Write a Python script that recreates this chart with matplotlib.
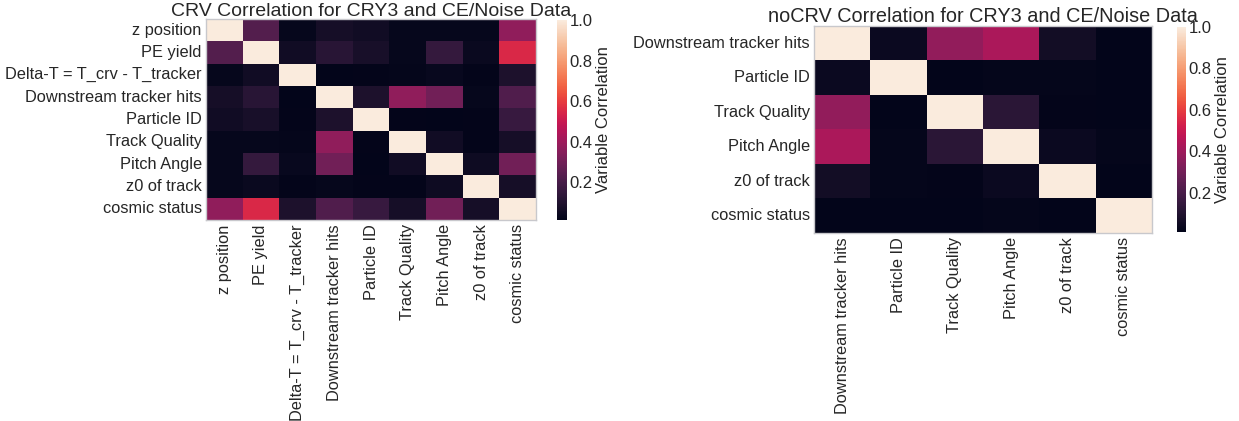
import numpy as np
import matplotlib
matplotlib.use("Agg")
import matplotlib.pyplot as plt
import seaborn as sns

# Variables entering each correlation study
crv_vars = ["z position", "PE yield", "Delta-T = T_crv - T_tracker",
            "Downstream tracker hits", "Particle ID", "Track Quality",
            "Pitch Angle", "z0 of track", "cosmic status"]
nocrv_vars = ["Downstream tracker hits", "Particle ID", "Track Quality",
              "Pitch Angle", "z0 of track", "cosmic status"]

# Absolute correlation coefficients (symmetric)
crv_corr = [
    [1.00, 0.23, 0.03, 0.07, 0.06, 0.03, 0.03, 0.03, 0.37],
    [0.23, 1.00, 0.06, 0.12, 0.08, 0.03, 0.15, 0.04, 0.55],
    [0.03, 0.06, 1.00, 0.015, 0.02, 0.025, 0.035, 0.02, 0.09],
    [0.07, 0.12, 0.015, 1.00, 0.09, 0.37, 0.30, 0.03, 0.22],
    [0.06, 0.08, 0.02, 0.09, 1.00, 0.02, 0.015, 0.02, 0.16],
    [0.03, 0.03, 0.025, 0.37, 0.02, 1.00, 0.06, 0.02, 0.07],
    [0.03, 0.15, 0.035, 0.30, 0.015, 0.06, 1.00, 0.05, 0.30],
    [0.03, 0.04, 0.02, 0.03, 0.02, 0.02, 0.05, 1.00, 0.07],
    [0.37, 0.55, 0.09, 0.22, 0.16, 0.07, 0.30, 0.07, 1.00],
]
nocrv_corr = [
    [1.00, 0.04, 0.37, 0.43, 0.06, 0.01],
    [0.04, 1.00, 0.01, 0.02, 0.02, 0.01],
    [0.37, 0.01, 1.00, 0.12, 0.015, 0.01],
    [0.43, 0.02, 0.12, 1.00, 0.04, 0.02],
    [0.06, 0.02, 0.015, 0.04, 1.00, 0.01],
    [0.01, 0.01, 0.01, 0.02, 0.01, 1.00],
]

sns.set_style("white")
plt.rcParams["font.family"] = ["Liberation Sans", "DejaVu Sans"]
plt.rcParams["text.color"] = ".15"
plt.rcParams["axes.labelcolor"] = ".15"
plt.rcParams["xtick.color"] = ".15"
plt.rcParams["ytick.color"] = ".15"

W, H = 1239, 421
fig = plt.figure(figsize=(W / 100, H / 100), dpi=100)


def box(x0, y0, x1, y1):
    return [x0 / W, 1 - y1 / H, (x1 - x0) / W, (y1 - y0) / H]


def draw(ax, cax, data, labels, title, title_pad, title_size):
    sns.heatmap(np.array(data), ax=ax, cbar_ax=cax, cmap="rocket",
                xticklabels=labels, yticklabels=labels,
                cbar_kws={"label": "Variable Correlation"})
    ax.set_title(title, fontsize=title_size, pad=title_pad)
    ax.tick_params(axis="both", labelsize=11.8, length=0, pad=3)
    ax.set_xticklabels(labels, rotation=90)
    ax.set_yticklabels(labels, rotation=0)
    for s in ax.spines.values():
        s.set_visible(True)
        s.set_color("#c8c8cc")
        s.set_linewidth(1.0)
    cax.tick_params(labelsize=12, length=0, pad=2)
    cax.yaxis.label.set_size(12)
    cax.set_yticks([0.2, 0.4, 0.6, 0.8, 1.0])
    cax.yaxis.labelpad = 2
    for s in cax.spines.values():
        s.set_visible(False)


ax1 = fig.add_axes(box(206, 19, 536, 220))
cax1 = fig.add_axes(box(557, 20, 567, 220))
draw(ax1, cax1, crv_corr, crv_vars,
     "CRV Correlation for CRY3 and CE/Noise Data", 2, 14.0)

ax2 = fig.add_axes(box(814, 26, 1152, 233))
cax2 = fig.add_axes(box(1177, 27, 1186, 232))
draw(ax2, cax2, nocrv_corr, nocrv_vars,
     "noCRV Correlation for CRY3 and CE/Noise Data", 3, 14.3)

fig.savefig("out.png", dpi=100)
